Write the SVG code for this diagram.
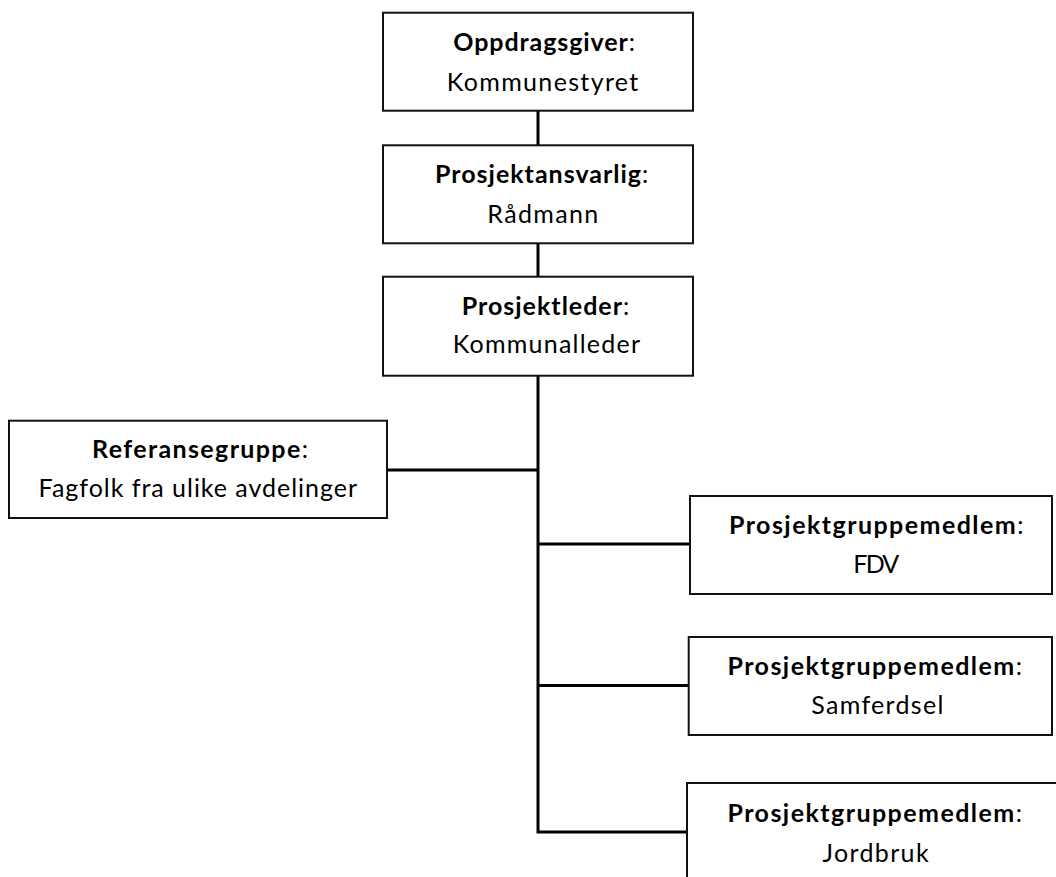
<svg xmlns="http://www.w3.org/2000/svg" width="1056" height="877" viewBox="0 0 1056 877">
<style>
.box{fill:#fff;stroke:#111;stroke-width:2}
.conn{stroke:#000;stroke-width:3;fill:none}
text{font-family:Lato,"Open Sans","Liberation Sans",sans-serif;font-size:25px;fill:#000}
.b{font-weight:bold}
</style>
<rect width="1056" height="877" fill="#fff"/>
<g id="connectors">
<line class="conn" x1="538" y1="110" x2="538" y2="146"/>
<line class="conn" x1="538" y1="243" x2="538" y2="277"/>
<polyline class="conn" points="538,376 538,832 687,832"/>
<line class="conn" x1="387" y1="470" x2="538" y2="470"/>
<line class="conn" x1="538" y1="544" x2="690" y2="544"/>
<line class="conn" x1="538" y1="685.5" x2="689" y2="685.5"/>
</g>
<g id="oppdragsgiver">
<rect class="box" x="383" y="12.7" width="310" height="98"/>
<text x="453.3" y="50.5" textLength="181.7" lengthAdjust="spacing"><tspan class="b">Oppdragsgiver</tspan>:</text>
<text x="446.7" y="90.7" textLength="191.6" lengthAdjust="spacing">Kommunestyret</text>
</g>
<g id="prosjektansvarlig">
<rect class="box" x="383" y="145.3" width="310" height="98"/>
<text x="435" y="182.7" textLength="213.3" lengthAdjust="spacing"><tspan class="b">Prosjektansvarlig</tspan>:</text>
<text x="487.3" y="222.7" textLength="111" lengthAdjust="spacing">Rådmann</text>
</g>
<g id="prosjektleder">
<rect class="box" x="383" y="276.7" width="310" height="99"/>
<text x="461.7" y="315" textLength="167.6" lengthAdjust="spacing"><tspan class="b">Prosjektleder</tspan>:</text>
<text x="452.7" y="352.7" textLength="187.3" lengthAdjust="spacing">Kommunalleder</text>
</g>
<g id="referansegruppe">
<rect class="box" x="9" y="420.7" width="378" height="97.3"/>
<text x="92.1" y="458" textLength="215.8" lengthAdjust="spacing"><tspan class="b">Referansegruppe</tspan>:</text>
<text x="38.6" y="497" textLength="318.4" lengthAdjust="spacing">Fagfolk fra ulike avdelinger</text>
</g>
<g id="fdv">
<rect class="box" x="690" y="496" width="362" height="98"/>
<text x="729" y="534" textLength="294.4" lengthAdjust="spacing"><tspan class="b">Prosjektgruppemedlem</tspan>:</text>
<text x="853.3" y="573" textLength="46" lengthAdjust="spacing">FDV</text>
</g>
<g id="samferdsel">
<rect class="box" x="688.7" y="637" width="363.3" height="98"/>
<text x="727.5" y="675" textLength="294.4" lengthAdjust="spacing"><tspan class="b">Prosjektgruppemedlem</tspan>:</text>
<text x="811.3" y="714" textLength="132" lengthAdjust="spacing">Samferdsel</text>
</g>
<g id="jordbruk">
<rect class="box" x="687" y="783" width="380" height="98"/>
<text x="727.5" y="822" textLength="294.4" lengthAdjust="spacing"><tspan class="b">Prosjektgruppemedlem</tspan>:</text>
<text x="822.6" y="862" textLength="106" lengthAdjust="spacing">Jordbruk</text>
</g>
</svg>
